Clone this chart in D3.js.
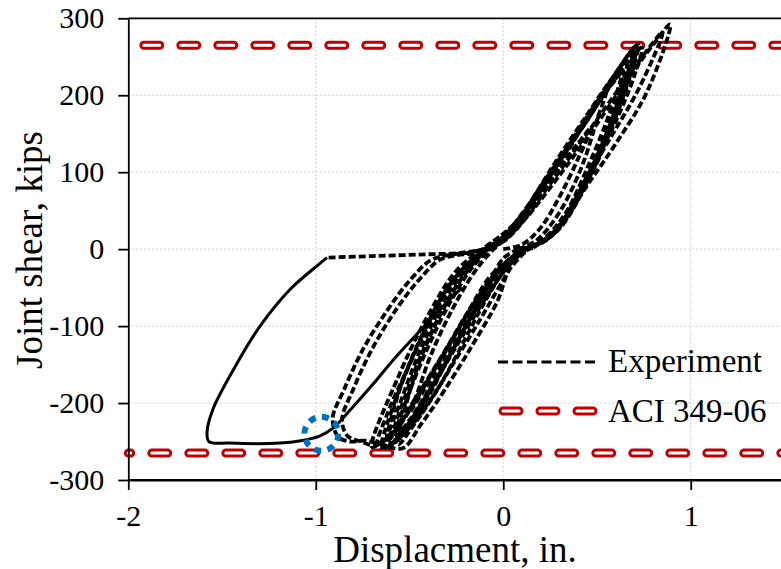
<!DOCTYPE html>
<html>
<head>
<meta charset="utf-8">
<script src="https://cdn.jsdelivr.net/npm/d3@7"></script>
<style>
  body { margin: 0; background: #fff; }
  text { font-family: "Liberation Serif", "Times New Roman", serif; fill: #000; }
</style>
</head>
<body>
<div id="chart"></div>
<script>
// axis ticks (the x axis runs to 2 but the picture is cut at about 1.5)
var xTicks = [-2, -1, 0, 1];
var yTicks = [-300, -200, -100, 0, 100, 200, 300];
var aciLimit = [265, -265];

// experiment cycles, [displacement in., joint shear kips]
var cycle1 = [[0.00,0],[0.10,6],[0.20,28],[0.30,68],[0.40,118],[0.47,158],
  [0.40,138],[0.28,98],[0.15,55],[0.04,20],[-0.06,-2],[-0.16,-32],[-0.28,-82],[-0.39,-140],[-0.46,-188],[-0.50,-212],
  [-0.43,-186],[-0.31,-142],[-0.19,-92],[-0.08,-46],[0.00,-12],[0.08,0]];
var cycle2 = [[0.08,0],[0.18,12],[0.30,48],[0.42,108],[0.50,168],[0.55,206],
  [0.48,184],[0.34,132],[0.19,78],[0.06,30],[-0.05,5],[-0.16,-22],[-0.29,-72],[-0.41,-132],[-0.51,-192],[-0.58,-245],
  [-0.50,-222],[-0.38,-176],[-0.25,-122],[-0.12,-66],[-0.02,-26],[0.09,-2]];
var cycle3 = [[0.09,-2],[0.20,10],[0.33,46],[0.46,112],[0.56,172],[0.63,228],
  [0.56,208],[0.43,162],[0.26,102],[0.10,46],[0.00,16],[-0.12,-8],[-0.25,-48],[-0.39,-112],[-0.51,-182],[-0.60,-255],
  [-0.52,-236],[-0.40,-192],[-0.28,-136],[-0.15,-80],[-0.03,-36],[0.10,0]];
var cycle4 = [[0.10,0],[0.22,12],[0.36,52],[0.50,122],[0.62,192],[0.70,262],
  [0.61,232],[0.46,172],[0.29,112],[0.13,52],[0.01,18],[-0.12,-4],[-0.28,-44],[-0.43,-110],[-0.56,-186],[-0.65,-258],
  [-0.56,-232],[-0.43,-182],[-0.30,-130],[-0.16,-72],[-0.01,-26],[0.12,0]];
var cycle5 = [[0.12,0],[0.25,16],[0.40,66],[0.55,142],[0.66,212],[0.72,266],
  [0.64,242],[0.50,192],[0.33,122],[0.16,62],[0.03,26],[-0.10,2],[-0.25,-28],[-0.41,-90],[-0.56,-166],[-0.70,-257],
  [-0.61,-242],[-0.49,-202],[-0.35,-148],[-0.21,-92],[-0.06,-36],[0.08,-4],[0.14,2]];
var cycle6 = [[0.14,2],[0.27,20],[0.41,70],[0.54,135],[0.62,200],[0.66,245],
  [0.58,222],[0.44,172],[0.27,110],[0.11,48],[0.00,14],[-0.13,-6],[-0.30,-52],[-0.45,-122],[-0.57,-196],[-0.62,-256],
  [-0.54,-238],[-0.42,-194],[-0.29,-140],[-0.17,-86],[-0.04,-34],[0.10,0]];
var cycle7 = [[0.10,0],[0.24,14],[0.38,60],[0.52,128],[0.64,200],[0.71,264],
  [0.62,236],[0.47,178],[0.30,114],[0.14,54],[0.02,20],[-0.11,-3],[-0.25,-8],[-0.34,-14],
  [-0.45,-40],[-0.57,-78],[-0.70,-130],[-0.80,-182],[-0.86,-222],[-0.83,-243],[-0.76,-250],[-0.68,-255],
  [-0.58,-236],[-0.46,-192],[-0.33,-140],[-0.19,-82],[-0.05,-30],[0.14,2]];
var cycle8 = [[0.14,2],[0.29,24],[0.44,80],[0.60,137],[0.77,206],[0.89,292],
  [0.80,266],[0.65,216],[0.48,156],[0.30,96],[0.12,40],[0.00,10],[-0.15,-3],[-0.30,-8],[-0.39,-15],
  [-0.50,-41],[-0.62,-80],[-0.75,-131],[-0.85,-183],[-0.91,-220],[-0.88,-244],[-0.82,-250],[-0.74,-249],[-0.66,-253],[-0.60,-258],
  [-0.53,-258],[-0.44,-228],[-0.35,-197],[-0.18,-131],[-0.03,-67],[0.03,-28],[0.14,2]];
var cycle10 = [[0.10,0],[0.22,10],[0.35,44],[0.48,110],[0.58,176],[0.64,232],
  [0.57,212],[0.44,166],[0.28,106],[0.12,48],[0.00,14],[-0.14,-12],[-0.27,-56],[-0.40,-118],[-0.50,-186],[-0.56,-254],
  [-0.47,-226],[-0.36,-186],[-0.24,-134],[-0.12,-78],[0.00,-30],[0.12,0]];
var cycle11 = [[0.12,0],[0.26,18],[0.40,72],[0.53,138],[0.63,204],[0.69,256],
  [0.60,226],[0.45,168],[0.28,108],[0.12,50],[0.00,16],[-0.13,-8],[-0.30,-60],[-0.44,-130],[-0.55,-200],[-0.63,-258],
  [-0.53,-240],[-0.40,-200],[-0.26,-146],[-0.12,-90],[0.00,-40],[0.08,-8],[0.16,2]];
var cycle12 = [[0.16,2],[0.30,30],[0.45,96],[0.60,166],[0.70,226],[0.74,262],
  [0.65,240],[0.51,194],[0.34,128],[0.17,66],[0.04,28],[-0.08,4],[-0.22,-26],[-0.36,-80],[-0.50,-150],[-0.62,-215],[-0.67,-256],
  [-0.58,-250],[-0.48,-222],[-0.38,-180],[-0.24,-122],[-0.10,-66],[0.02,-24],[0.12,0]];
var cycle9 = [[0.14,2],[0.28,26],[0.42,84],[0.58,148],[0.73,212],[0.85,282],
  [0.76,256],[0.61,206],[0.44,148],[0.26,88],[0.09,32],[-0.03,6],[-0.20,-4],[-0.45,-7],[-0.70,-9],[-0.94,-11]];
var finalSolid = [[-0.94,-11],[-0.99,-21],[-1.14,-53],[-1.30,-101],[-1.44,-157],[-1.55,-209],[-1.58,-238],[-1.57,-250],
  [-1.46,-252],[-1.19,-252],[-1.08,-249],[-0.98,-243],[-0.91,-233],[-0.82,-210],[-0.70,-177],[-0.58,-142],
  [-0.44,-105],[-0.32,-74],[-0.22,-50]];

var dashedCycles = [cycle1, cycle2, cycle3, cycle4, cycle5, cycle6, cycle10, cycle11, cycle12, cycle7, cycle8, cycle9];

drawChart();

function drawChart() {
  var width = 781, height = 569;
  var svg = d3.select("#chart").append("svg")
    .attr("width", width)
    .attr("height", height);

  var x = d3.scaleLinear().domain([-2, 2]).range([128.3, 878.2]);
  var y = d3.scaleLinear().domain([-300, 300]).range([480, 18.3]);

  // grid
  var grid = svg.append("g").attr("stroke", "#cfcfcf").attr("stroke-width", 1).attr("stroke-dasharray", "2,2");
  grid.selectAll(".gy").data(yTicks.filter(d => d > -300 && d < 300)).enter().append("line")
    .attr("x1", x(-2)).attr("x2", x(2)).attr("y1", d => y(d)).attr("y2", d => y(d));
  grid.selectAll(".gx").data(xTicks.filter(d => d > -2)).enter().append("line")
    .attr("x1", d => x(d)).attr("x2", d => x(d)).attr("y1", y(300)).attr("y2", y(-300));

  // ACI 349-06 limits: red outlined dashes
  var aciOffsets = [21.5, 13.5];
  aciLimit.forEach(function(v, i) {
    svg.append("line").attr("x1", x(-2)).attr("x2", x(2)).attr("y1", y(v)).attr("y2", y(v))
      .attr("stroke", "#c00000").attr("stroke-width", 9).attr("stroke-linecap", "round")
      .attr("stroke-dasharray", "16,21").attr("stroke-dashoffset", aciOffsets[i]);
    svg.append("line").attr("x1", x(-2)).attr("x2", x(2)).attr("y1", y(v)).attr("y2", y(v))
      .attr("stroke", "#fff").attr("stroke-width", 3).attr("stroke-linecap", "round")
      .attr("stroke-dasharray", "16,21").attr("stroke-dashoffset", aciOffsets[i]);
  });

  var line = d3.line()
    .x(d => x(d[0]))
    .y(d => y(d[1]))
    .curve(d3.curveCatmullRom.alpha(0.5));

  svg.append("g").selectAll("path").data(dashedCycles).enter().append("path")
    .attr("d", line)
    .attr("fill", "none")
    .attr("stroke", "#000")
    .attr("stroke-width", 3.8)
    .attr("stroke-dasharray", "7,3");

  svg.append("path").datum(finalSolid)
    .attr("d", line)
    .attr("fill", "none")
    .attr("stroke", "#000")
    .attr("stroke-width", 3);

  // highlight circle
  svg.append("circle")
    .attr("cx", x(-0.97)).attr("cy", y(-240)).attr("r", 17)
    .attr("fill", "none").attr("stroke", "#0070c0").attr("stroke-width", 6)
    .attr("stroke-dasharray", "7,6.35");

  // axes
  var yAxis = svg.append("g").attr("transform", "translate(" + x(-2) + ",0)")
    .call(d3.axisLeft(y).tickValues(yTicks).tickSize(10).tickSizeOuter(0).tickPadding(14).tickFormat(d => String(d)));
  var xAxis = svg.append("g").attr("transform", "translate(0," + y(-300) + ")")
    .call(d3.axisBottom(x).tickValues(xTicks).tickSize(10).tickSizeOuter(0).tickPadding(15).tickFormat(d => String(d)));
  [yAxis, xAxis].forEach(function(a) {
    a.attr("font-family", null).attr("font-size", null);
    a.selectAll("path, line").attr("stroke", "#000").attr("stroke-width", 1.8);
    a.selectAll("text").style("font-size", "30px");
  });
  svg.append("line").attr("x1", x(-2)).attr("x2", x(2)).attr("y1", y(-300)).attr("y2", y(-300))
    .attr("stroke", "#000").attr("stroke-width", 1.8);
  svg.append("line").attr("x1", x(-2)).attr("x2", x(2)).attr("y1", y(300)).attr("y2", y(300))
    .attr("stroke", "#000").attr("stroke-width", 1.8);

  // axis titles
  svg.append("text").attr("x", 455).attr("y", 562).attr("text-anchor", "middle")
    .style("font-size", "37px").text("Displacment, in.");
  svg.append("text").attr("transform", "translate(42,250) rotate(-90)").attr("text-anchor", "middle")
    .style("font-size", "37px").text("Joint shear, kips");

  // legend
  var leg = svg.append("g");
  leg.append("line").attr("x1", 498).attr("x2", 597).attr("y1", 362).attr("y2", 362)
    .attr("stroke", "#000").attr("stroke-width", 3.2).attr("stroke-dasharray", "10,4.5");
  leg.append("text").attr("x", 608).attr("y", 372).style("font-size", "33px").text("Experiment");
  leg.append("line").attr("x1", 503).attr("x2", 593).attr("y1", 411).attr("y2", 411)
    .attr("stroke", "#c00000").attr("stroke-width", 9).attr("stroke-linecap", "round").attr("stroke-dasharray", "16,21");
  leg.append("line").attr("x1", 503).attr("x2", 593).attr("y1", 411).attr("y2", 411)
    .attr("stroke", "#fff").attr("stroke-width", 3).attr("stroke-linecap", "round").attr("stroke-dasharray", "16,21");
  leg.append("text").attr("x", 608).attr("y", 422).style("font-size", "33px").text("ACI 349-06");
}
</script>
</body>
</html>
